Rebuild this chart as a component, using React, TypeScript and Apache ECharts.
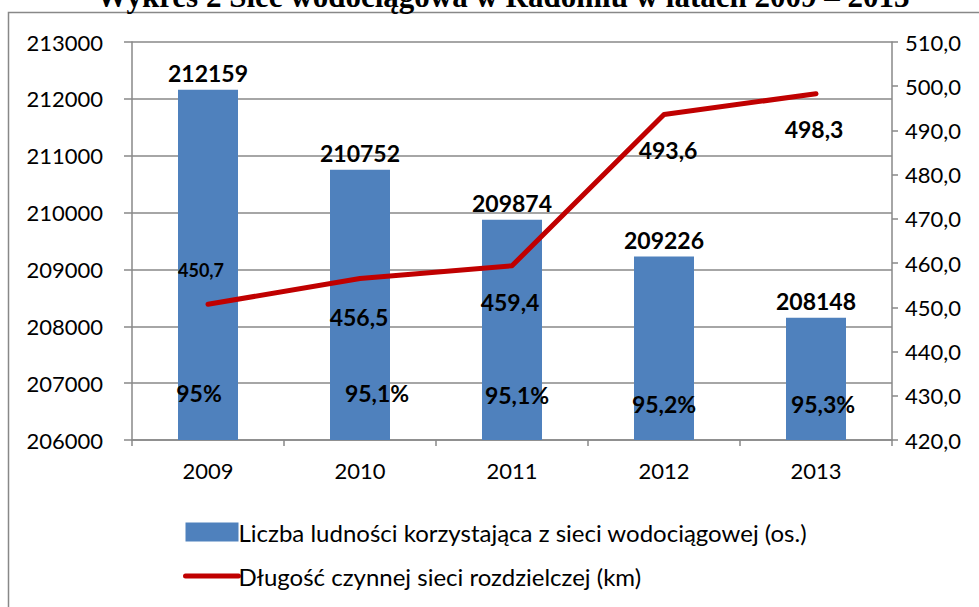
import React, { useEffect, useRef } from "react";
import * as echarts from "echarts";

const years = ["2009", "2010", "2011", "2012", "2013"];
const population = [212159, 210752, 209874, 209226, 208148];
const networkLength = [450.7, 456.5, 459.4, 493.6, 498.3];
const coverage = ["95%", "95,1%", "95,1%", "95,2%", "95,3%"];
const titleText = "Wykres 2 Sieć wodociągowa w Radomiu w latach 2009 – 2013";
const barName = "Liczba ludności korzystająca z sieci wodociągowej (os.)";
const lineName = "Długość czynnej sieci rozdzielczej (km)";

// label layout (styling only)
const lineLabelOffsets = [[-7, -34], [-1, 38], [-2, 36], [4, 35], [-2, 35]];
const lineLabelSizes = [18, 23, 23, 23, 23];
const pctLabelOffsets = [[-9, -36], [17, -36], [5, -34], [0, -25], [7, -25]];

const FONT = "Lato";
const GRID_COLOR = "#898989";
const AXIS_FS = 22;
const BOLD_FS = 23;

const fmtComma = (v: number) => v.toFixed(1).replace(".", ",");

export default function App() {
  const ref = useRef<HTMLDivElement>(null);
  useEffect(() => {
    if (!ref.current) return;
    const chart = echarts.init(ref.current, null, { renderer: "svg" });
    chart.setOption({
      animation: false,
      backgroundColor: "#ffffff",
      textStyle: { fontFamily: FONT },
      graphic: [
        {
          type: "rect",
          shape: { x: 8.5, y: 12.5, width: 1100, height: 700 },
          style: { fill: "none", stroke: "#888888", lineWidth: 1.5 },
          silent: true,
        },
        {
          type: "text",
          x: 503,
          y: -4,
          style: {
            text: titleText,
            fontFamily: "Liberation Serif",
            fontWeight: "bold",
            fontSize: 31,
            fill: "#000",
            textAlign: "center",
            textVerticalAlign: "middle",
            verticalAlign: "middle",
          },
        },
      ],
      grid: { left: 132, right: 87, top: 42, bottom: 167 },
      legend: {
        orient: "vertical",
        left: 183,
        top: 520,
        padding: 0,
        itemWidth: 53,
        itemHeight: 19,
        itemGap: 20,
        textStyle: { fontFamily: FONT, fontSize: 24, color: "#000", padding: [0, 0, 0, -5] },
        data: [
          { name: barName, icon: "rect" },
          { name: lineName, itemStyle: { opacity: 0 }, lineStyle: { width: 5, cap: "round" } },
        ],
      },
      xAxis: {
        type: "category",
        data: years,
        axisLine: { lineStyle: { color: GRID_COLOR, width: 1.5 } },
        axisTick: { show: true, length: 6, lineStyle: { color: GRID_COLOR, width: 1.5 } },
        axisLabel: { color: "#000", fontSize: AXIS_FS, fontFamily: FONT, margin: 19 },
      },
      yAxis: [
        {
          type: "value",
          min: 206000,
          max: 213000,
          interval: 1000,
          axisLine: { show: true, lineStyle: { color: GRID_COLOR, width: 1.5 } },
          axisTick: { show: true, length: 8, lineStyle: { color: GRID_COLOR, width: 1.5 } },
          axisLabel: {
            color: "#000",
            fontSize: AXIS_FS,
            fontFamily: FONT,
            margin: 29,
            formatter: (v: number) => String(v),
          },
          splitLine: { show: true, lineStyle: { color: GRID_COLOR, width: 1.5 } },
        },
        {
          type: "value",
          min: 420,
          max: 510,
          interval: 10,
          position: "right",
          axisLine: { show: true, lineStyle: { color: GRID_COLOR, width: 1.5 } },
          axisTick: { show: true, length: 6, lineStyle: { color: GRID_COLOR, width: 1.5 } },
          axisLabel: { color: "#000", fontSize: AXIS_FS, fontFamily: FONT, margin: 13, formatter: (v: number) => fmtComma(v) },
          splitLine: { show: false },
        },
      ],
      series: [
        {
          name: barName,
          type: "bar",
          yAxisIndex: 0,
          data: population,
          barWidth: 60,
          barGap: "-100%",
          itemStyle: { color: "#4F81BD" },
          label: {
            show: true,
            position: "top",
            distance: 5,
            color: "#000",
            fontWeight: "bold",
            fontSize: BOLD_FS,
            fontFamily: FONT,
          },
        },
        {
          name: "coverage",
          type: "bar",
          yAxisIndex: 0,
          barWidth: 60,
          barGap: "-100%",
          silent: true,
          itemStyle: { color: "rgba(0,0,0,0)" },
          data: population.map((v, i) => ({
            value: v,
            label: { offset: pctLabelOffsets[i] },
          })),
          label: {
            show: true,
            position: "insideBottom",
            distance: 0,
            color: "#000",
            fontWeight: "bold",
            fontSize: BOLD_FS,
            fontFamily: FONT,
            formatter: (p: any) => coverage[p.dataIndex],
          },
          z: 3,
        },
        {
          name: lineName,
          type: "line",
          yAxisIndex: 1,
          symbol: "circle",
          symbolSize: 1,
          itemStyle: { color: "#C00000" },
          lineStyle: { color: "#C00000", width: 5, cap: "round", join: "round" },
          data: networkLength.map((v, i) => ({
            value: v,
            label: { offset: lineLabelOffsets[i], fontSize: lineLabelSizes[i] },
          })),
          label: {
            show: true,
            position: "inside",
            color: "#000",
            fontWeight: "bold",
            fontSize: BOLD_FS,
            fontFamily: FONT,
            formatter: (p: any) => fmtComma(p.value),
          },
          z: 4,
        },
      ],
    });
    return () => chart.dispose();
  }, []);
  return (
    <div
      ref={ref}
      style={{ position: "absolute", left: 0, top: 0, width: 979, height: 607 }}
    />
  );
}
